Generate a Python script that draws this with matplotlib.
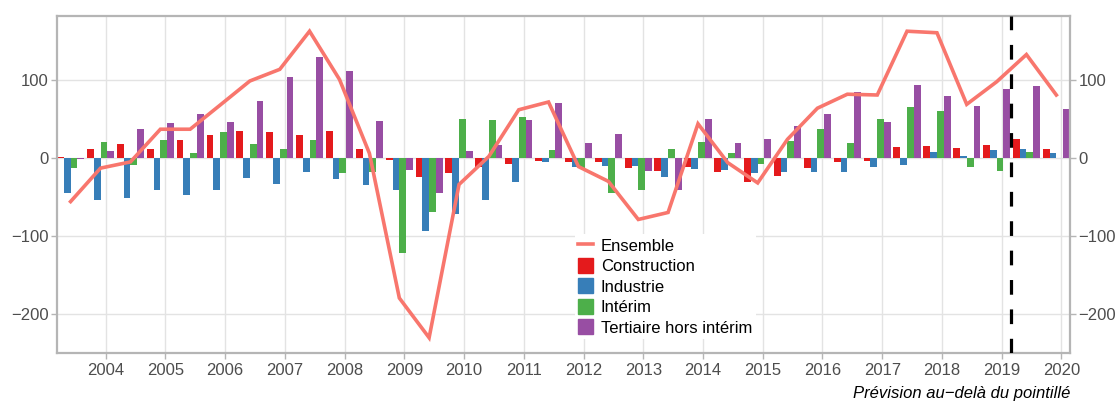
import numpy as np
import pandas as pd
import matplotlib
matplotlib.use("Agg")
import matplotlib.pyplot as plt
import matplotlib.dates as mdates
from matplotlib.lines import Line2D
from matplotlib.patches import Patch

plt.rcParams['font.family'] = ['Liberation Sans', 'DejaVu Sans']

# semesters, June 1st and December 1st, 2003-06 .. 2019-12
dates = pd.date_range("2003-06-01", periods=34, freq="6MS")

ensemble = [-56, -13, -5, 37, 37, 68, 99, 114, 163, 101, 6, -180, -231, -34, 2, 62, 72,
            -11, -30, -79, -70, 44, -6, -32, 24, 64, 82, 81, 163, 161, 69, 98, 133, 81]
construction = [1.7, 11.5, 17.9, 11.5, 23, 29.5, 34.6, 33.3, 29.5, 34.6, 11.5, -2.6, -23.9,
                -19.7, -11.1, -7.7, -3.8, -5.1, -5.1, -12.4, -16.7, -11.1, -17.9, -30.8,
                -23.1, -12.8, -5.1, -3.8, 14.1, 15.4, 12.8, 16.7, 24.4, 11.5]
industrie = [-44.4, -53.8, -50.9, -41, -47.4, -41, -25.6, -32.9, -17.9, -26.9, -34.6, -41,
             -93.2, -72.2, -53.8, -30.3, -5.1, -11.1, -10.3, -10.3, -23.9, -13.7, -15, -19.2,
             -17.9, -17.9, -17.9, -11.5, -9, 7.7, 2.6, 10.3, 11.5, 6.4]
interim = [-12.4, 20.5, -8.5, 23, 6.4, 33.3, 17.9, 11.5, 23, -19.2, -17.9, -122, -68.8, 50,
           48.7, 52.6, 10.3, -13.2, -45.3, -41, 11.5, 20.5, 6.4, -7.3, 21.8, 37.2, 19.2, 50,
           65, 60.3, -11.5, -16.7, 7.7, 0]
tertiaire = [-1.3, 9, 37.2, 44.9, 56.4, 46.2, 73, 103.8, 129.5, 111.5, 47.4, -15.4, -45.3, 9,
             16.7, 48.7, 70.5, 19.2, 30.8, -16.7, -41, 50, 19.2, 24.4, 41, 56.4, 84.6, 46.2,
             93.6, 79.5, 66.7, 88.5, 92.3, 62.8]

series = [("Construction", construction, "#e41a1c"),
          ("Industrie", industrie, "#377eb8"),
          ("Intérim", interim, "#4daf4a"),
          ("Tertiaire hors intérim", tertiaire, "#984ea3")]
line_color = "#f8766d"
forecast_start = pd.Timestamp("2019-03-01")

fig = plt.figure(figsize=(11.18, 4.01), dpi=100)
ax = fig.add_axes([0.051, 0.12, 0.906, 0.84])

x = mdates.date2num(dates)
w = 41.5
for i, (name, vals, col) in enumerate(series):
    ax.bar(x + (i - 1.5) * w, vals, width=w, color=col, zorder=2, linewidth=0)

ax.plot(x, ensemble, color=line_color, lw=2.6, zorder=3, solid_joinstyle='miter')
ax.axvline(mdates.date2num(forecast_start), color='black', lw=2.3,
           linestyle=(0, (4.6, 4.6)), zorder=4)

ax.set_xlim(x[0] - 2 * w, x[-1] + 2 * w)
ax.set_ylim(-250.5, 182.5)
ax.set_yticks([-200, -100, 0, 100])
ax.xaxis.set_major_locator(mdates.YearLocator())
ax.xaxis.set_major_formatter(mdates.DateFormatter("%Y"))

ax.grid(True, color='#e3e3e3', lw=1.0, zorder=0)
ax.set_axisbelow(True)
for s in ax.spines.values():
    s.set_color('#b5b5b5')
    s.set_linewidth(1.6)
ax.tick_params(axis='both', colors='#b5b5b5', labelcolor='#4d4d4d', labelsize=12,
               length=4, width=1)
ax.tick_params(axis='y', right=True, labelright=True, pad=2)
ax.tick_params(axis='x', pad=3)

handles = [Line2D([0], [0], color=line_color, lw=2.6, label="Ensemble")]
handles += [Patch(color=c, label=n) for n, _, c in series]
fig.legend(handles=handles, loc='upper left', bbox_to_anchor=(0.507, 0.437),
           frameon=True, framealpha=1, facecolor='white', edgecolor='none',
           fontsize=12, handlelength=0.9, handleheight=1.0, handletextpad=0.45,
           labelspacing=0.26, borderpad=0.2, fancybox=False)

fig.text(0.957, 0.008, "Prévision au−delà du pointillé", ha='right', va='baseline',
         style='italic', fontsize=12, color='black')

fig.savefig("out.png", dpi=100)
